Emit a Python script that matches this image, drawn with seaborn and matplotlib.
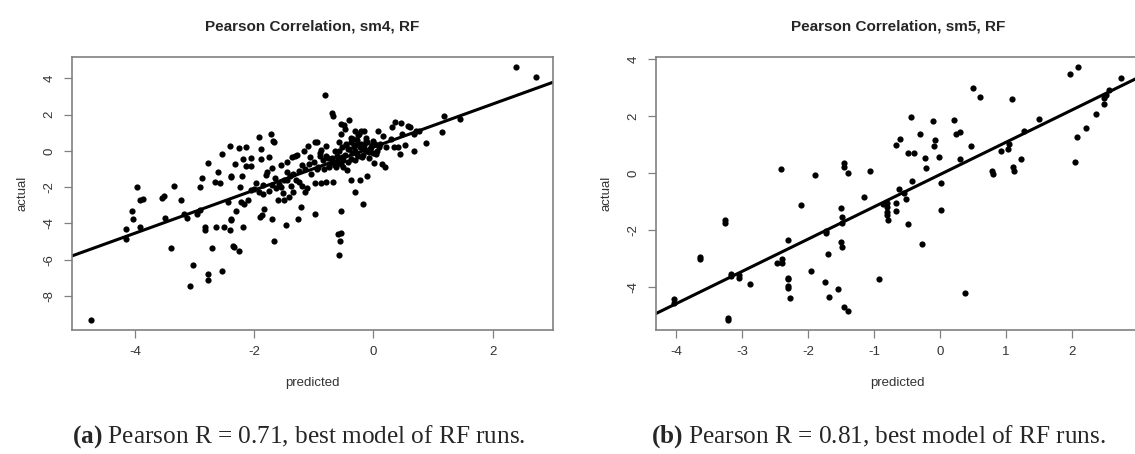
import numpy as np
import matplotlib
matplotlib.use("Agg")
import matplotlib.pyplot as plt
import seaborn as sns

# sm4 / RF: predicted vs actual
pred_sm4 = [-4.74, -4.15, -4.15, -4.04, -4.03, -3.96, -3.92, -3.86, -3.91, -3.55, -3.51, -3.50, -3.40, -3.35,
            -3.22, -3.17, -3.12, -3.03, -3.07, -2.96, -2.91, -2.91, -2.88, -2.82, -2.82, -2.77, -2.77, -2.77,
            -2.70, -2.64, -2.65, -2.58, -2.61, -2.54, -2.53, -2.50, -2.43, -2.41, -2.41, -2.39, -2.38, -2.39,
            -2.38, -2.35, -2.34, -2.32, -2.30, -2.25, -2.26, -2.24, -2.22, -2.20, -2.19, -2.19, -2.17, -2.13,
            -2.11, -2.13, -2.05, -2.05, -2.05, -1.96, -1.92, -1.91, -1.90, -1.86, -1.88, -1.88, -1.85, -1.83,
            -1.80, -1.78, -1.75, -1.71, -1.70, -1.69, -1.66, -1.70, -1.65, -1.67, -1.64, -1.60, -1.58, -1.55,
            -1.51, -1.50, -1.49, -1.47, -1.45, -1.44, -1.42, -1.39, -1.38, -1.36, -1.34, -1.32, -1.30, -1.28,
            -1.26, -1.24, -1.22, -1.19, -1.16, -1.15, -1.14, -1.12, -1.09, -1.08, -1.06, -1.04, -0.98, -0.98,
            -0.97, -0.94, -0.92, -0.89, -0.88, -0.87, -0.82, -0.81, -0.80, -0.79, -0.76, -0.74, -0.70, -0.69,
            -0.68, -0.67, -0.65, -0.63, -0.61, -0.60, -0.55, -0.58, -0.56, -0.57, -0.55, -0.54, -0.49, -0.55,
            -0.52, -0.50, -0.48, -0.46, -0.44, -0.42, -0.40, -0.38, -0.37, -0.34, -0.32, -0.31, -0.30, -0.28,
            -0.26, -0.24, -0.22, -0.20, -0.16, -0.19, -0.18, -0.16, -0.13, -0.10, -0.07, -0.04, -0.01, 0.02,
            0.05, 0.08, 0.11, 0.14, 0.17, 0.20, 0.22, 0.29, 0.32, 0.35, 0.37, 0.41, 0.45, 0.47, 0.49, 0.53,
            0.58, 0.61, 0.68, 0.71, 0.68, 0.77, 0.88, 1.18, 1.16, 1.45, 2.39, 2.73,
            -0.45, -0.40, -0.38, -0.35, -0.33, -0.30, -0.28, -0.25, -0.22, -0.20, -0.18, -0.15, -0.12, -0.10,
            -0.08, -0.05, -0.02, 0.00, 0.03, 0.06, 0.10, -0.50, -0.55, -0.60, -0.65, -0.70, -0.75, -0.48,
            -0.42, -0.30, -0.37, -0.26, -0.13, -0.58, -0.52, -0.85, -0.90, -0.80, -1.00, -0.95, -1.20, -1.25,
            -1.35, -1.45, -1.55, -1.70, -1.75, -1.85, -2.00]
act_sm4 = [-9.30, -4.31, -4.83, -3.32, -3.74, -2.00, -2.68, -2.66, -4.20, -2.57, -2.46, -3.69, -5.34, -1.91,
           -2.70, -3.47, -3.69, -6.28, -7.43, -3.47, -3.28, -2.00, -1.50, -4.20, -4.35, -0.68, -6.81, -7.10,
           -5.34, -4.20, -1.74, -1.76, -1.14, -0.15, -6.62, -4.20, -2.81, -4.35, 0.26, -1.45, -1.39, -3.74,
           -3.83, -5.23, -5.32, -0.72, -3.32, 0.15, -5.49, -2.00, -2.83, -1.41, -0.46, -4.20, -2.95, 0.20,
           -2.68, -0.81, -0.81, -0.39, -2.13, -1.78, -2.28, 0.79, -3.67, -3.56, -0.44, 0.11, -1.87, -3.19,
           -1.32, -1.19, -0.31, 0.95, -3.74, 0.53, 0.50, -0.95, -1.50, -4.94, -2.02, -2.73, -1.82, -0.77,
           -2.33, -1.63, -2.70, -4.11, -0.61, -1.17, -2.55, -1.36, -1.93, -0.35, -2.28, -0.26, -1.58, -0.22,
           -3.74, -1.72, -3.10, -1.91, 0.02, -2.28, -0.99, -2.06, 0.26, -0.72, -0.35, -1.27, -1.78, -3.47,
           0.50, 0.50, -0.90, -0.26, -1.78, 0.06, -0.99, 3.08, 0.26, -1.72, -0.39, -0.84, -0.62, 2.07,
           1.94, -1.72, 0.02, -0.90, -0.26, -4.57, -4.53, 0.51, -4.99, -5.71, -3.32, 1.49, 1.45, 0.94,
           -0.35, -0.90, 1.21, 0.39, -1.08, 0.11, 1.72, -1.63, -0.44, 0.66, 0.20, 1.12, -2.24, -0.17,
           0.39, 0.94, -1.60, 1.12, 1.12, -0.35, -2.92, 0.11, 0.57, -1.39, -0.07, 0.20, 0.57, -0.68,
           -0.17, 1.12, 0.39, -0.72, 0.84, -0.90, 0.20, 0.66, 1.34, 0.20, 1.58, 0.24, -0.17, 1.52, 0.94, 0.35,
           1.39, 1.30, 0.94, 1.08, 0.02, 1.12, 0.42, 1.94, 1.05, 1.74, 4.61, 4.06,
           0.30, 0.10, 0.50, -0.10, 0.30, 0.00, 0.60, -0.30, 0.20, 0.40, -0.20, 0.30, 0.00, 0.50,
           -0.40, 0.10, 0.30, -0.10, 0.40, 0.00, 0.20, -0.50, -0.70, -0.60, -0.80, -0.40, -0.90, -0.20,
           -0.60, -0.50, 0.70, 0.90, 0.70, 0.00, 0.20, -0.50, -0.10, -0.30, -0.60, -1.00, -0.80, -1.10,
           -1.30, -1.60, -2.00, -1.90, -2.20, -2.40, -2.10]

# sm5 / RF
pred_sm5 = [-4.03, -4.03, -3.64, -3.64, -3.26, -3.26, -3.21, -3.21, -3.17, -3.17, -3.05, -3.05, -2.88, -2.47,
            -2.41, -2.40, -2.40, -2.31, -2.31, -2.31, -2.31, -2.31, -2.27, -2.10, -1.96, -1.89, -1.74, -1.73,
            -1.73, -1.70, -1.68, -1.54, -1.50, -1.50, -1.48, -1.48, -1.48, -1.46, -1.45, -1.45, -1.39, -1.39,
            -1.15, -1.06, -0.93, -0.86, -0.81, -0.81, -0.81, -0.81, -0.79, -0.67, -0.67, -0.67, -0.62, -0.60,
            -0.54, -0.52, -0.49, -0.48, -0.44, -0.43, -0.39, -0.31, -0.27, -0.23, -0.21, -0.10, -0.09, -0.07,
            -0.01, 0.01, 0.02, 0.22, 0.24, 0.31, 0.31, 0.38, 0.47, 0.50, 0.61, 0.79, 0.81, 0.93, 1.03, 1.04,
            1.09, 1.10, 1.12, 1.23, 1.27, 1.50, 1.97, 2.04, 2.08, 2.09, 2.22, 2.36, 2.49, 2.49, 2.51, 2.57,
            2.75]
act_sm5 = [-4.42, -4.56, -2.92, -2.99, -1.64, -1.73, -5.06, -5.14, -3.53, -3.60, -3.57, -3.66, -3.89, -3.15,
           0.14, -3.01, -3.13, -2.34, -3.66, -3.71, -3.95, -4.01, -4.38, -1.10, -3.42, -0.07, -3.81, -2.02,
           -2.10, -2.83, -4.32, -4.07, -1.23, -2.42, -1.52, -2.59, -1.75, -4.70, 0.35, 0.21, -4.82, 0.02,
           -0.82, 0.08, -3.71, -1.07, -1.05, -1.19, -1.34, -1.47, -1.64, 0.98, -1.03, -1.31, -0.55, 1.19,
           -0.70, -0.91, -1.78, 0.72, 1.99, -0.27, 0.72, 1.38, -2.48, 0.55, 0.20, 1.85, 0.96, 1.17,
           0.57, -1.29, -0.33, 1.88, 1.38, 1.46, 0.49, -4.21, 0.96, 2.98, 2.66, 0.08, -0.02, 0.78, 0.84, 1.03,
           2.61, 0.23, 0.08, 0.49, 1.50, 1.90, 3.50, 0.40, 1.26, 3.74, 1.59, 2.08, 2.43, 2.63, 2.75, 2.92,
           3.33]

titles = ["Pearson Correlation, sm4, RF", "Pearson Correlation, sm5, RF"]
captions = [r"$\mathbf{(a)}$ Pearson R = 0.71, best model of RF runs.",
            r"$\mathbf{(b)}$ Pearson R = 0.81, best model of RF runs."]

sns.set_style("white")
plt.rcParams["font.family"] = ["Liberation Sans", "DejaVu Sans"]
plt.rcParams["axes.unicode_minus"] = False
plt.rcParams["mathtext.fontset"] = "custom"
plt.rcParams["mathtext.rm"] = "Liberation Serif"
plt.rcParams["mathtext.bf"] = "Liberation Serif:bold"

W, H = 1135, 454
fig = plt.figure(figsize=(W / 100, H / 100), dpi=100)
ax1 = fig.add_axes([71.7 / W, 1 - 330 / H, 481 / W, 273.3 / H])
ax2 = fig.add_axes([655.7 / W, 1 - 330 / H, 484.1 / W, 273.3 / H])

setups = [
    (ax1, pred_sm4, act_sm4, (-5.06, 3.01), (-9.87, 5.19), [-4, -2, 0, 2], [-8, -6, -4, -2, 0, 2, 4]),
    (ax2, pred_sm5, act_sm5, (-4.31, 3.03), (-5.49, 4.09), [-4, -3, -2, -1, 0, 1, 2, 3], [-4, -2, 0, 2, 4]),
]

for i, (ax, x, y, xl, yl, xt, yt) in enumerate(setups):
    ax.set_xlim(xl)
    ax.set_ylim(yl)
    sns.regplot(x=np.array(x), y=np.array(y), ax=ax, ci=None, truncate=False,
                scatter_kws=dict(s=20, color="black", linewidths=0, alpha=1),
                line_kws=dict(color="black", lw=2.2))
    ax.set_xlim(xl)
    ax.set_ylim(yl)
    ax.set_xticks(xt)
    ax.set_yticks(yt)
    for s in ax.spines.values():
        s.set_color("#808080")
        s.set_linewidth(1.2)
    ax.tick_params(axis="both", direction="out", length=5.5, width=0.9, color="#808080",
                   labelsize=9.5, labelcolor="#333333", bottom=True, left=True)
    ax.tick_params(axis="x", pad=6)
    ax.tick_params(axis="y", pad=6, labelrotation=90)
    for lab in ax.get_yticklabels():
        lab.set_va("center")
    ax.set_xlabel("predicted", fontsize=9.5, color="#333333", labelpad=14)
    ax.set_ylabel("actual", fontsize=9.5, color="#333333", labelpad=11)
    ax.set_title(titles[i], fontsize=11, fontweight="bold", pad=19)

fig.text(298.5 / W, 1 - 437 / H, captions[0], ha="center", va="center",
         family="Liberation Serif", fontsize=18.2)
fig.text(878.5 / W, 1 - 437 / H, captions[1], ha="center", va="center",
         family="Liberation Serif", fontsize=18.2)

fig.savefig("out.png", dpi=100)
